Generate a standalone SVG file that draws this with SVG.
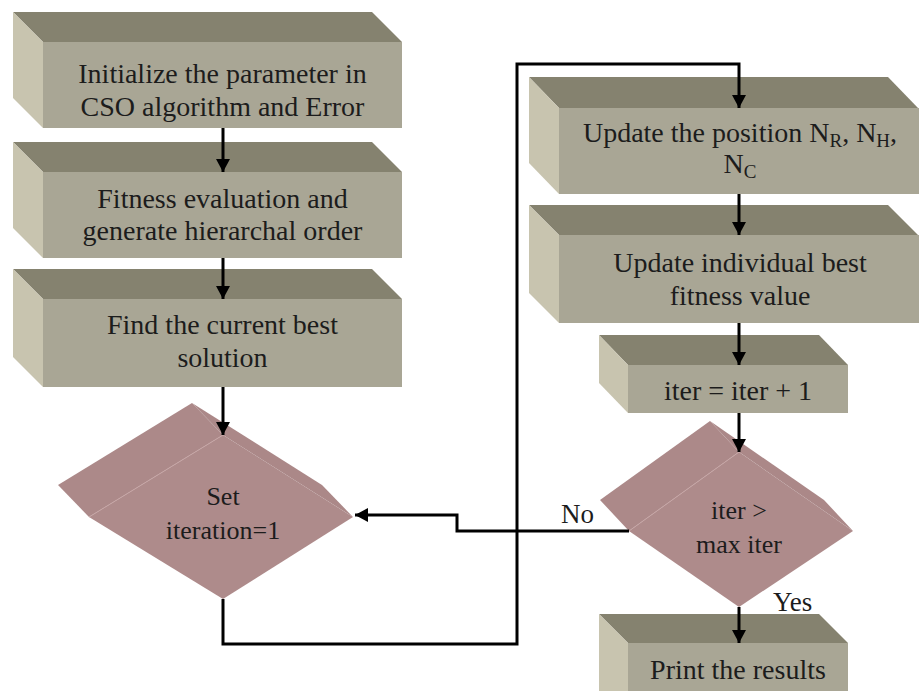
<svg xmlns="http://www.w3.org/2000/svg" width="919" height="691" viewBox="0 0 919 691">
<defs>
<style>
.front{fill:#A9A695;}
.top{fill:#85826F;}
.side{fill:#C8C4AF;}
.dfront{fill:#AE8B8B;}
.dtl{fill:#AC8989;}
.dtr{fill:#AB8888;}
.edge{fill:none;stroke:#C6A6A6;stroke-width:1;}
.t{font-family:"Liberation Serif","Times New Roman",serif;font-size:28px;fill:#1c1c1c;text-anchor:middle;}
.td{font-family:"Liberation Serif","Times New Roman",serif;font-size:26px;fill:#1c1c1c;text-anchor:middle;}
.lbl{font-family:"Liberation Serif","Times New Roman",serif;font-size:27px;fill:#1c1c1c;}
.sub{font-size:19px;}
.conn{fill:none;stroke:#000;stroke-width:3;}
</style>
<marker id="arr" markerUnits="userSpaceOnUse" markerWidth="14" markerHeight="14" viewBox="0 0 14 14" refX="13" refY="7" orient="auto">
<path d="M0,0 L13,7 L0,14 Z" fill="#000"/>
</marker>
</defs>
<rect width="919" height="691" fill="#fff"/>

<g id="node-init">
<polygon class="top" points="13,12 372,12 402,42 43,42"/>
<polygon class="side" points="13,12 43,42 43,128 13,98"/>
<rect class="front" x="43" y="42" width="359" height="86"/>
<text class="t" x="222.5" y="83">Initialize the parameter in</text>
<text class="t" x="222.5" y="116">CSO algorithm and Error</text>
</g>

<g id="node-fitness">
<polygon class="top" points="13,142 372,142 402,172 43,172"/>
<polygon class="side" points="13,142 43,172 43,258 13,228"/>
<rect class="front" x="43" y="172" width="359" height="86"/>
<text class="t" x="222.5" y="208">Fitness evaluation and</text>
<text class="t" x="222.5" y="240">generate hierarchal order</text>
</g>

<g id="node-best">
<polygon class="top" points="13,269 372,269 402,299 43,299"/>
<polygon class="side" points="13,269 43,299 43,387 13,357"/>
<rect class="front" x="43" y="299" width="359" height="88"/>
<text class="t" x="222.5" y="334">Find the current best</text>
<text class="t" x="222.5" y="367">solution</text>
</g>

<g id="node-set">
<polygon class="dtl" points="58,485 192,403 223,435 89,517"/>
<polygon class="dtr" points="192,403 322,485 353,517 223,435"/>
<polygon class="dfront" points="223,435 353,517 223,599 89,517"/>
<line class="edge" x1="89" y1="517" x2="223" y2="435"/>
<text class="td" x="223" y="505">Set</text>
<text class="td" x="223" y="539">iteration=1</text>
</g>

<g id="node-update-pos">
<polygon class="top" points="529,77 888,77 918,108 559,108"/>
<polygon class="side" points="529,77 559,108 559,194 529,163"/>
<rect class="front" x="559" y="108" width="360" height="86"/>
<text class="t" x="740" y="142">Update the position N<tspan class="sub" dy="5">R</tspan><tspan dy="-5">, N</tspan><tspan class="sub" dy="5">H</tspan><tspan dy="-5">,</tspan></text>
<text class="t" x="740" y="173">N<tspan class="sub" dy="5">C</tspan></text>
</g>

<g id="node-update-best">
<polygon class="top" points="529,205 888,205 918,235 559,235"/>
<polygon class="side" points="529,205 559,235 559,323 529,293"/>
<rect class="front" x="559" y="235" width="360" height="88"/>
<text class="t" x="740" y="272">Update individual best</text>
<text class="t" x="740" y="305">fitness value</text>
</g>

<g id="node-iter">
<polygon class="top" points="599,335 819,335 848,365 628,365"/>
<polygon class="side" points="599,335 628,365 628,413 599,383"/>
<rect class="front" x="628" y="365" width="220" height="48"/>
<text class="t" x="738" y="400">iter = iter + 1</text>
</g>

<g id="node-check">
<polygon class="dtl" points="600,500 710,421 739,452 629,531"/>
<polygon class="dtr" points="710,421 824,500 853,531 739,452"/>
<polygon class="dfront" points="739,452 853,531 739,607 629,531"/>
<line class="edge" x1="629" y1="531" x2="739" y2="452"/>
<text class="td" x="739" y="519">iter &gt;</text>
<text class="td" x="739" y="553">max iter</text>
</g>

<g id="node-print">
<polygon class="top" points="599,614 819,614 848,643 628,643"/>
<polygon class="side" points="599,614 628,643 628,691 599,691"/>
<rect class="front" x="628" y="643" width="220" height="48"/>
<text class="t" x="738" y="679">Print the results</text>
</g>

<g id="connectors">
<line class="conn" x1="223" y1="128" x2="223" y2="172" marker-end="url(#arr)"/>
<line class="conn" x1="223" y1="258" x2="223" y2="299" marker-end="url(#arr)"/>
<line class="conn" x1="223" y1="387" x2="223" y2="435" marker-end="url(#arr)"/>
<polyline class="conn" points="223,599 223,644 517,644 517,64 739,64 739,108" marker-end="url(#arr)"/>
<line class="conn" x1="739" y1="194" x2="739" y2="235" marker-end="url(#arr)"/>
<line class="conn" x1="739" y1="323" x2="739" y2="365" marker-end="url(#arr)"/>
<line class="conn" x1="739" y1="413" x2="739" y2="452" marker-end="url(#arr)"/>
<polyline class="conn" points="629,531 457,531 457,515 355,515" marker-end="url(#arr)"/>
<line class="conn" x1="739" y1="607" x2="739" y2="643" marker-end="url(#arr)"/>
<text class="lbl" x="561" y="523">No</text>
<text class="lbl" x="773" y="611">Yes</text>
</g>
</svg>
